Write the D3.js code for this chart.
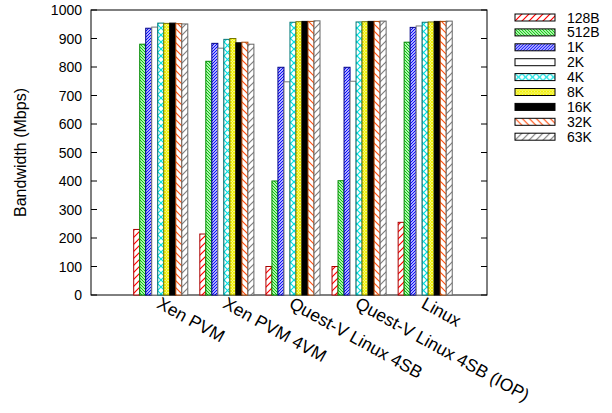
<!DOCTYPE html>
<html>
<head>
<meta charset="utf-8">
<script src="https://cdn.jsdelivr.net/npm/d3@7"></script>
<style>
  body { margin: 0; background: #fff; }
  text { font-family: "Liberation Sans", Arial, sans-serif; }
</style>
</head>
<body>
<svg width="612" height="413"></svg>
<script>
// data
var groups = ["Xen PVM", "Xen PVM 4VM", "Quest-V Linux 4SB", "Quest-V Linux 4SB (IOP)", "Linux"];
var sizes = ["128B", "512B", "1K", "2K", "4K", "8K", "16K", "32K", "63K"];
var xenPVM    = [230, 880, 936, 940, 954, 953, 954, 952, 951];
var xenPVM4VM = [214, 820, 883, 866, 897, 900, 885, 887, 880];
var questV    = [100, 400, 799, 748, 957, 959, 960, 960, 962];
var questVIOP = [100, 401, 799, 750, 958, 959, 960, 960, 961];
var linux     = [255, 887, 939, 944, 957, 958, 960, 960, 961];
var yTicks = [0, 100, 200, 300, 400, 500, 600, 700, 800, 900, 1000];

var rows = [xenPVM, xenPVM4VM, questV, questVIOP, linux];

var svg = d3.select("svg");
var pLeft = 91, pRight = 487, pTop = 10, pBottom = 295;

var x = d3.scaleLinear().domain([-1.055, 4.935]).range([pLeft, pRight]);
var y = d3.scaleLinear().domain([0, 1000]).range([pBottom, pTop]);
var bw = (x(1) - x(0)) / 11;   // 9 bars + gap of 2

// fill patterns, one per packet size
var defs = svg.append("defs");
function lines(id, color, step, dir, cross) {
  var p = defs.append("pattern").attr("id", id)
      .attr("patternUnits", "userSpaceOnUse")
      .attr("width", step).attr("height", step);
  p.append("rect").attr("width", step).attr("height", step).attr("fill", "#fff");
  var d1 = "M0," + step + "L" + step + ",0M-1,1L1,-1M" + (step - 1) + "," + (step + 1) + "L" + (step + 1) + "," + (step - 1);
  var d2 = "M0,0L" + step + "," + step + "M-1," + (step - 1) + "L1," + (step + 1) + "M" + (step - 1) + ",-1L" + (step + 1) + ",1";
  if (dir == "/" || cross) p.append("path").attr("d", d1).attr("stroke", color).attr("stroke-width", 1.2);
  if (dir == "\\" || cross) p.append("path").attr("d", d2).attr("stroke", color).attr("stroke-width", 1.2);
}
lines("p0", "#ff0000", 7, "/");
lines("p1", "#00cc00", 3, "\\");
lines("p2", "#0000ff", 3, "/");
lines("p4", "#00e0e0", 7, "x", true);
lines("p5", "#f0f000", 3, "x", true);
lines("p7", "#ff5010", 7, "\\");
lines("p8", "#808080", 7, "/");

var fills = ["url(#p0)", "url(#p1)", "url(#p2)", "#fff", "url(#p4)", "url(#p5)", "#000", "url(#p7)", "url(#p8)"];
var strokes = ["#a00", "#080", "#008", "#777", "#077", "#770", "#000", "#a40", "#666"];

// frame
svg.append("rect").attr("x", pLeft).attr("y", pTop)
   .attr("width", pRight - pLeft).attr("height", pBottom - pTop)
   .attr("fill", "none").attr("stroke", "#000").attr("stroke-width", 1);

// y ticks, both sides pointing inward
var yt = svg.append("g");
yt.selectAll("line.l").data(yTicks).enter().append("line")
  .attr("x1", pLeft).attr("x2", pLeft + 6)
  .attr("y1", function(d) { return y(d); }).attr("y2", function(d) { return y(d); })
  .attr("stroke", "#000");
yt.selectAll("line.r").data(yTicks).enter().append("line")
  .attr("x1", pRight - 6).attr("x2", pRight)
  .attr("y1", function(d) { return y(d); }).attr("y2", function(d) { return y(d); })
  .attr("stroke", "#000");
yt.selectAll("text").data(yTicks).enter().append("text")
  .attr("x", pLeft - 9).attr("y", function(d) { return y(d) + 5; })
  .attr("text-anchor", "end").attr("font-size", 14)
  .text(function(d) { return d; });

svg.append("text")
  .attr("transform", "translate(26," + ((pTop + pBottom) / 2) + ") rotate(-90)")
  .attr("text-anchor", "middle").attr("font-size", 16)
  .text("Bandwidth (Mbps)");

// bars
var bars = svg.append("g");
rows.forEach(function(vals, i) {
  bars.selectAll("rect.g" + i).data(vals).enter().append("rect")
    .attr("x", function(d, j) { return x(i) + (j - 4.5) * bw; })
    .attr("y", function(d) { return y(d); })
    .attr("width", bw)
    .attr("height", function(d) { return y(0) - y(d); })
    .attr("fill", function(d, j) { return fills[j]; })
    .attr("stroke", function(d, j) { return strokes[j]; })
    .attr("stroke-width", 1);
});

// group labels, slanted
svg.append("g").selectAll("text").data(groups).enter().append("text")
  .attr("transform", function(d, i) { return "translate(" + (x(i) - 5) + ",307) rotate(29)"; })
  .attr("font-size", 17.5)
  .text(function(d) { return d; });

// legend
var lg = svg.append("g").attr("transform", "translate(515,14)");
var item = lg.selectAll("g").data(sizes).enter().append("g")
  .attr("transform", function(d, j) { return "translate(0," + (j * 14.9) + ")"; });
item.append("rect").attr("width", 40).attr("height", 7)
  .attr("fill", function(d, j) { return fills[j]; })
  .attr("stroke", "#000").attr("stroke-width", 1);
item.append("text").attr("x", 52).attr("y", 8.5).attr("font-size", 14)
  .text(function(d) { return d; });
</script>
</body>
</html>
